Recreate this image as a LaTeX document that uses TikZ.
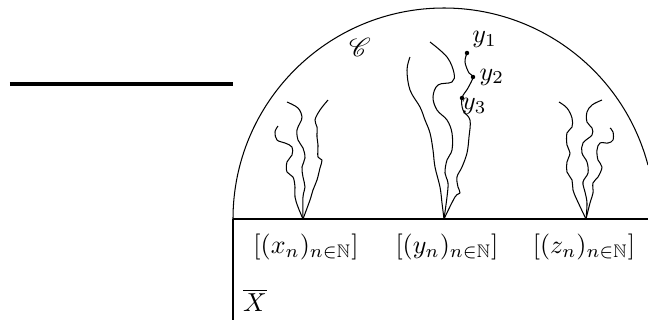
\documentclass[tikz,border=0pt]{standalone}
\usepackage{amsmath,amssymb,mathrsfs}
\begin{document}
\begin{tikzpicture}[x=0.3845pt, y=0.3845pt,
    trace/.style={thin, line join=round},
    dot/.style={circle, fill, inner sep=0pt, minimum size=1.7pt}]
  \useasboundingbox (-444,-103) rectangle (204,219);
  % base points of the three hulls
  \coordinate (O) at (0,0);
  \coordinate (L) at (-141,0);
  \coordinate (R) at (142,0);
  \coordinate (W) at (-211,0);
  \coordinate (E) at (204,0);
  \draw[very thick] (-434,135) -- (-211,135);
  \draw (W) -- (E);
  \draw (W) -- (-211,-101);
  \draw (W) arc (180:14.8:211);
  % left hull
  \draw[trace] plot[smooth, tension=0.6] coordinates {(-166,93) (-169,87) (-167,79) (-159,76)
    (-152,72) (-152,64) (-157,57) (-157,47) (-151,42) (-149,32) (-149,22) (-146,12) (L)};
  \draw[trace] plot[smooth, tension=0.6] coordinates {(-157,117) (-146,111) (-142,102) (-144,96)
    (-147,89) (-146,79) (-141,71) (-139,61) (-142,52) (-141,42) (-139,32) (-141,22) (L)};
  \draw[trace] plot[smooth, tension=0.6] coordinates {(-116,119) (-124,109) (-129,99) (-127,92)
    (-127,82) (-126,74) (-126,62) (-122,59) (-124,51) (-127,39) (-131,29) (-134,19) (L)};
  % middle hull
  \draw[trace] plot[smooth, tension=0.6] coordinates {(-34,162) (-37,149) (-34,129) (-24,112)
    (-19,99) (-14,86) (-11,69) (-9,52) (-4,32) (-2,16) (O)};
  \draw[trace] plot[smooth, tension=0.6] coordinates {(-14,177) (3,162) (10,146) (8,137) (-6,134)
    (-11,122) (-7,109) (3,99) (8,86) (8,69) (3,59) (1,46) (4,36) (3,22) (O)};
  \node[dot] (y1) at (23,166) {};
  \node[dot] (y2) at (29,142) {};
  \node[dot] (y3) at (18,121) {};
  \draw[trace] plot[smooth, tension=0.6] coordinates {(y1) (21,157) (25,146) (y2) (24,131) (y3)
    (19,109) (26,99) (25,82) (23,66) (18,52) (13,42) (14,32) (16,26) (11,22) (O)};
  \node[above right=-1.5pt] (t1) at (y1) {$y_1$};
  \node[right=-1pt] (t2) at (y2) {$y_2$};
  \node[below right=-3.5pt] (t3) at (y3) {$y_3$};
  % right hull
  \draw[trace] plot[smooth, tension=0.6] coordinates {(115,117) (123,111) (128,101) (128,92)
    (123,86) (123,74) (126,66) (123,57) (123,47) (128,39) (129,29) (133,19) (R)};
  \draw[trace] plot[smooth, tension=0.6] coordinates {(158,119) (148,114) (143,107) (143,97)
    (148,91) (148,84) (139,76) (138,66) (143,57) (144,46) (139,37) (141,27) (143,16) (R)};
  \draw[trace] plot[smooth, tension=0.6] coordinates {(166,91) (169,87) (169,79) (164,76)
    (156,76) (153,69) (154,59) (158,52) (154,42) (149,36) (149,26) (146,16) (R)};
  % labels
  \node (C) at (-84,172) {$\mathscr{C}$};
  \node (xs) at (-138,-28) {$[(x_n)_{n\in\mathbb{N}}]$};
  \node (ys) at (3,-28) {$[(y_n)_{n\in\mathbb{N}}]$};
  \node (zs) at (140,-28) {$[(z_n)_{n\in\mathbb{N}}]$};
  \node (Xb) at (-189,-81) {$\overline{X}$};
\end{tikzpicture}
\end{document}
